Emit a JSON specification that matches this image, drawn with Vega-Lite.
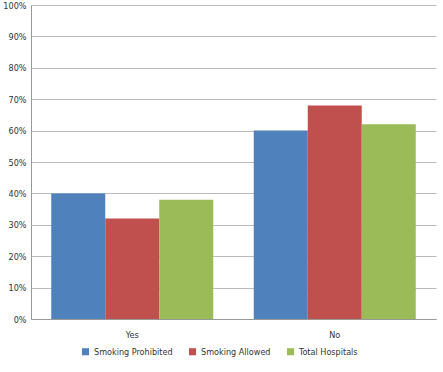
{
  "$schema": "https://vega.github.io/schema/vega-lite/v6.json",
  "width": 405,
  "height": 314,
  "autosize": {"type": "none"},
  "padding": {"left": 31, "top": 5, "right": 7, "bottom": 53},
  "background": "white",
  "data": {
    "values": [
      {"answer": "Yes", "series": "Smoking Prohibited", "value": 0.40},
      {"answer": "Yes", "series": "Smoking Allowed", "value": 0.32},
      {"answer": "Yes", "series": "Total Hospitals", "value": 0.38},
      {"answer": "No", "series": "Smoking Prohibited", "value": 0.60},
      {"answer": "No", "series": "Smoking Allowed", "value": 0.68},
      {"answer": "No", "series": "Total Hospitals", "value": 0.62}
    ]
  },
  "config": {
    "view": {"stroke": null},
    "font": "DejaVu Sans Condensed",
    "axis": {"labelFont": "DejaVu Sans Condensed", "labelFontSize": 9, "labelColor": "#333333"},
    "legend": {"labelFont": "DejaVu Sans Condensed", "labelFontSize": 9, "labelColor": "#333333"}
  },
  "mark": {"type": "bar", "stroke": null},
  "encoding": {
    "x": {
      "field": "answer", "type": "nominal", "sort": ["Yes", "No"],
      "scale": {"paddingInner": 0, "paddingOuter": 0},
      "axis": {"title": null, "labelAngle": 0, "ticks": false, "domainColor": "#999999", "labelPadding": 11, "grid": false}
    },
    "xOffset": {
      "field": "series", "type": "nominal",
      "sort": ["Smoking Prohibited", "Smoking Allowed", "Total Hospitals"],
      "scale": {"paddingInner": 0, "paddingOuter": 0.375}
    },
    "y": {
      "field": "value", "type": "quantitative",
      "scale": {"domain": [0, 1]},
      "axis": {"title": null, "format": ".0%", "values": [0,0.1,0.2,0.3,0.4,0.5,0.6,0.7,0.8,0.9,1], "labelOverlap": false, "labelFlush": false, "ticks": false, "domainColor": "#999999", "gridColor": "#bbbbbb", "labelPadding": 5}
    },
    "color": {
      "field": "series", "type": "nominal",
      "sort": ["Smoking Prohibited", "Smoking Allowed", "Total Hospitals"],
      "scale": {"range": ["#4F81BD", "#C0504D", "#9BBB59"]},
      "legend": {
        "title": null, "orient": "none", "direction": "horizontal",
        "legendX": 50, "legendY": 342,
        "symbolType": "square", "symbolSize": 50, "symbolStrokeWidth": 0,
        "columnPadding": 15, "labelOffset": 4
      }
    }
  }
}
